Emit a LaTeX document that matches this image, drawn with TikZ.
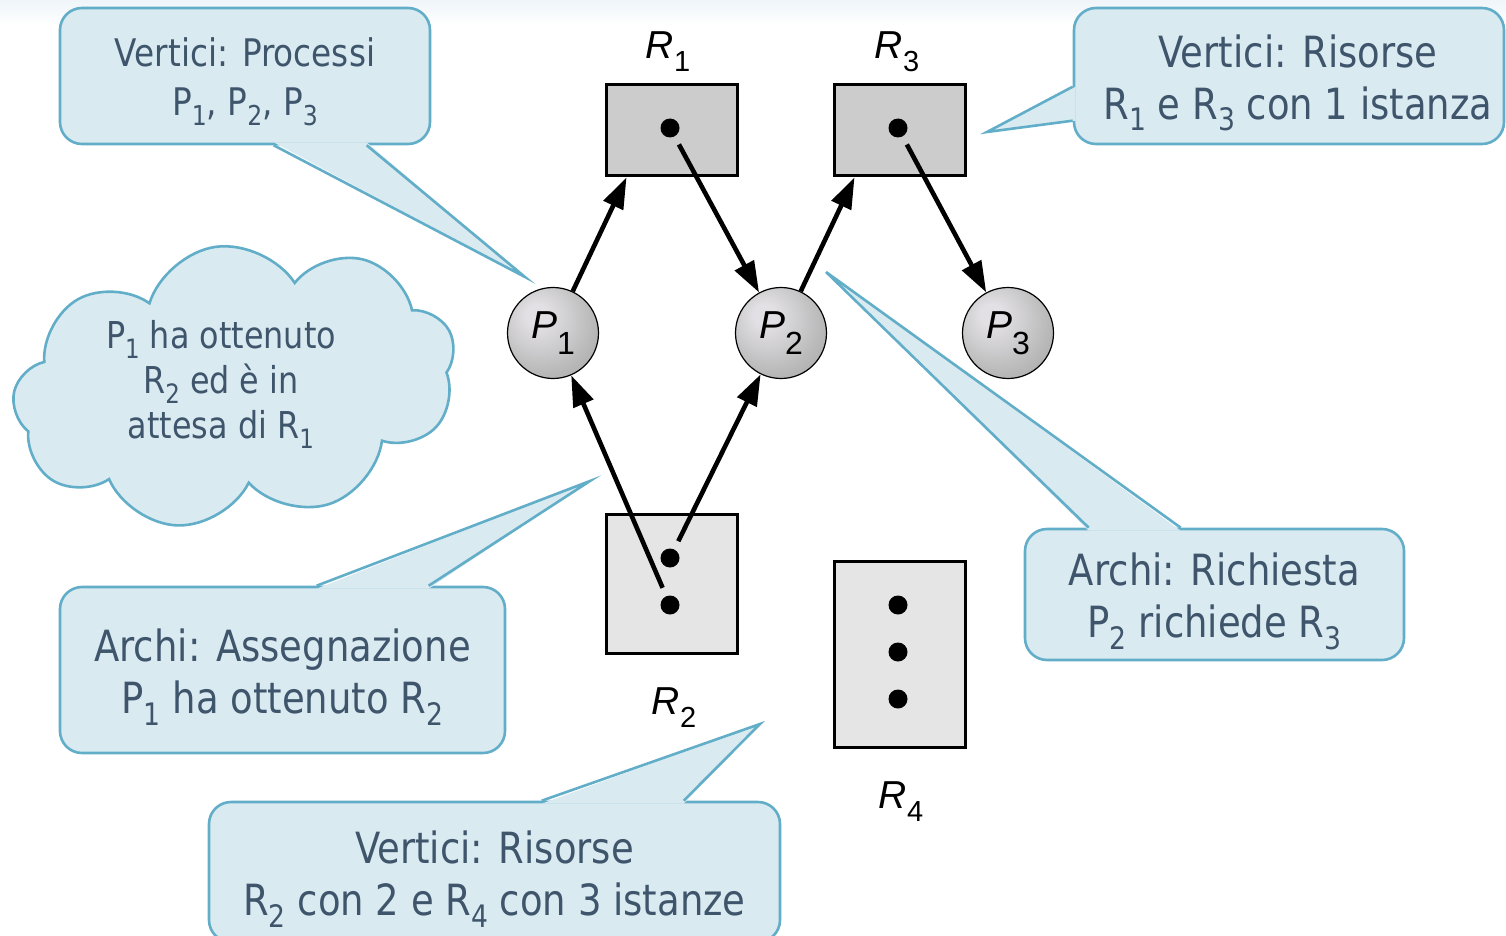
\documentclass[tikz,border=0pt]{standalone}
\usepackage{fontspec}
\usetikzlibrary{arrows.meta,shapes.symbols,calc}
\newfontfamily\callfont[FakeStretch=0.86]{DejaVu Sans}
\newfontfamily\lblfont{Liberation Sans}
\definecolor{callfill}{HTML}{DAEAF1}
\definecolor{calledge}{HTML}{62AEC8}
\definecolor{calltext}{HTML}{3E556B}
\definecolor{resdark}{HTML}{CCCCCC}
\definecolor{reslight}{HTML}{E5E5E5}
\definecolor{ballhi}{HTML}{E2E0E4}
\definecolor{ballmid}{HTML}{B9B9B9}
\definecolor{balldark}{HTML}{9C9C9C}
\definecolor{balledge}{HTML}{808080}
\definecolor{haze}{HTML}{EFF5F9}
% shaded sphere used for the process vertices
\pgfdeclareradialshading{procball}{\pgfpoint{-10bp}{11bp}}{%
  color(0bp)=(ballhi); color(6bp)=(ballhi); color(28bp)=(ballmid);
  color(46bp)=(balldark); color(66bp)=(balledge)}
% lowered, reduced index inside the callout texts
\newcommand\dn[1]{\raisebox{-0.27em}{\scalebox{0.72}{#1}}}
% italic vertex names with an upright index
\newcommand\vlab[2]{{\lblfont\itshape\fontsize{39}{39}\selectfont #1}%
  \raisebox{-13pt}{\lblfont\fontsize{29}{29}\selectfont #2}}
\newcommand\plab[2]{{\lblfont\itshape\fontsize{39}{39}\selectfont #1}%
  \raisebox{-16pt}{\lblfont\fontsize{32}{32}\selectfont #2}}
\begin{document}
\begin{tikzpicture}[x=1pt,y=-1pt,
  callbox/.style={rectangle, rounded corners=22, fill=callfill, draw=calledge,
    line width=2.6, inner sep=0},
  calltxt/.style={text=calltext, align=center, inner sep=0},
  callbig/.style={font={\callfont\fontsize{43}{52}\selectfont}},
  tipfill/.style={fill=callfill},
  tipedge/.style={draw=calledge, line width=2.6, line join=miter},
  ball/.style={circle, minimum size=91, inner sep=0, draw=black, line width=1.2,
    shading=procball},
  resbox/.style={rectangle, draw=black, line width=3, inner sep=0},
  dot/.style={circle, fill=black, minimum size=19, inner sep=0},
  arr/.style={line width=4.6, -{Triangle[length=31pt,width=21pt]}}]
\useasboundingbox (0,0) rectangle (1506,936);
\fill[top color=haze, bottom color=white] (0,0) rectangle (1506,26);

% ---------- resources ----------
\node[resbox, fill=resdark, minimum width=131, minimum height=91] (R1) at (671.5,130.5) {};
\node[resbox, fill=resdark, minimum width=131, minimum height=91] (R3) at (899.5,130.5) {};
\node[resbox, fill=reslight, minimum width=131, minimum height=139] (R2) at (671.5,583.5) {};
\node[resbox, fill=reslight, minimum width=131, minimum height=186] (R4) at (899.5,654) {};
\node[dot] (d1) at (670,128) {};
\node[dot] (d3) at (898,128) {};
\node[dot] (d2a) at (670,558) {};
\node[dot] (d2b) at (670,605) {};
\node[dot] (d4a) at (898,605) {};
\node[dot] (d4b) at (898,652) {};
\node[dot] (d4c) at (898,699) {};
\node (L1) at (668,52) {\vlab{R}{1}};
\node (L3) at (897,52) {\vlab{R}{3}};
\node (L2) at (674,708) {\vlab{R}{2}};
\node (L4) at (901,802) {\vlab{R}{4}};

% ---------- processes ----------
\node[ball] (P1) at (553,333) {\plab{P}{1}};
\node[ball] (P2) at (781,333) {\plab{P}{2}};
\node[ball] (P3) at (1008,333) {\plab{P}{3}};

% ---------- edges ----------
\draw[arr] (P1) -- ([xshift=22]R1.south west);
\draw[arr, shorten <=9] (d1) -- (P2);
\draw[arr] (P2) -- ([xshift=22]R3.south west);
\draw[arr, shorten <=9] (d3) -- (P3);
\draw[arr, shorten <=9] (d2b) -- (P1);
\draw[arr, shorten <=9] (d2a) -- (P2);

% ---------- callouts ----------
\node[callbox, minimum width=370, minimum height=136] (c1) at (245,76) {};
\coordinate (t1) at (525,277);
\fill[tipfill] ($(c1.south west)+(215,-3)$) -- (t1) -- ($(c1.south west)+(308,-3)$) -- cycle;
\draw[tipedge] ($(c1.south west)+(215,0)$) -- (t1) -- ($(c1.south west)+(308,0)$);
\node[calltxt, font={\callfont\fontsize{38}{49}\selectfont}] (c1t) at ([yshift=-6]c1.center)
  {Vertici: Processi\\P\dn{1}, P\dn{2}, P\dn{3}};

\node[callbox, minimum width=430, minimum height=136] (c2) at (1289,76) {};
\coordinate (t2) at (987,132);
\fill[tipfill] ($(c2.north west)+(3,80)$) -- (t2) -- ($(c2.north west)+(3,114)$) -- cycle;
\draw[tipedge] ($(c2.north west)+(0,80)$) -- (t2) -- ($(c2.north west)+(0,114)$);
\node[calltxt, callbig] (c2t) at ([xshift=9,yshift=-7]c2.center)
  {Vertici: Risorse\\R\dn{1} e R\dn{3} con 1 istanza};

\node[callbox, minimum width=445, minimum height=166] (c3) at (282.5,670) {};
\coordinate (t3) at (590,481);
\fill[tipfill] ($(c3.north west)+(258,3)$) -- (t3) -- ($(c3.north west)+(370,3)$) -- cycle;
\draw[tipedge] ($(c3.north west)+(258,0)$) -- (t3) -- ($(c3.north west)+(370,0)$);
\node[calltxt, callbig] (c3t) at ([yshift=-7]c3.center)
  {Archi: Assegnazione\\P\dn{1} ha ottenuto R\dn{2}};

\node[callbox, minimum width=571, minimum height=140] (c4) at (494.5,872) {};
\coordinate (t4) at (760,724);
\fill[tipfill] ($(c4.north west)+(334,3)$) -- (t4) -- ($(c4.north west)+(476,3)$) -- cycle;
\draw[tipedge] ($(c4.north west)+(334,0)$) -- (t4) -- ($(c4.north west)+(476,0)$);
\node[calltxt, callbig] (c4t) at ([yshift=-7]c4.center)
  {Vertici: Risorse\\R\dn{2} con 2 e R\dn{4} con 3 istanze};

\node[callbox, minimum width=379, minimum height=131] (c5) at (1214.5,594.5) {};
\coordinate (t5) at (826,272);
\fill[tipfill] ($(c5.north west)+(65,3)$) -- (t5) -- ($(c5.north west)+(157,3)$) -- cycle;
\draw[tipedge] ($(c5.north west)+(65,0)$) -- (t5) -- ($(c5.north west)+(157,0)$);
\node[calltxt, callbig] (c5t) at ([yshift=-7]c5.center)
  {Archi: Richiesta\\P\dn{2} richiede R\dn{3}};

% ---------- thought cloud ----------
\node[cloud, cloud puffs=9, cloud puff arc=130, aspect=1.6,
  minimum width=446, minimum height=279, inner sep=0,
  fill=callfill, draw=calledge, line width=2.6, rotate=8] (cl) at (235,385) {};
\node[calltxt, font={\callfont\fontsize{37}{45}\selectfont}] (clt) at (221,384)
  {P\dn{1} ha ottenuto\\R\dn{2} ed è in\\attesa di R\dn{1}};
\end{tikzpicture}
\end{document}
